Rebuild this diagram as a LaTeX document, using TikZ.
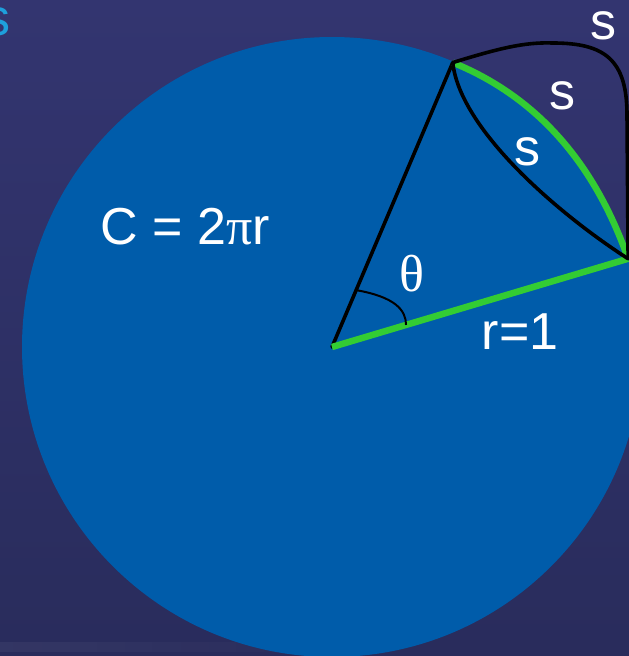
\documentclass[tikz,border=0pt]{standalone}
\usepackage{fontspec}
\setmainfont{Liberation Sans}
\newfontfamily\serifgreek{Liberation Serif}
\usetikzlibrary{calc,fadings}
\definecolor{bgtop}{RGB}{51,53,112}
\definecolor{bgbot}{RGB}{41,44,92}
\definecolor{disc}{RGB}{0,92,170}
\definecolor{arcgreen}{RGB}{51,204,51}
\definecolor{titleblue}{RGB}{30,160,220}
\tikzfading[name=streakfade, left color=transparent!0, right color=transparent!100]
\tikzset{
  lbl/.style={text=white, inner sep=0pt, font=\fontsize{52}{60}\selectfont},
  greenline/.style={draw=arcgreen, line width=6.5pt},
  blackline/.style={draw=black, line width=3.6pt, line cap=round, line join=round},
  anglemark/.style={draw=black, line width=2pt},
}
\begin{document}
\begin{tikzpicture}[x=1pt,y=-1pt]
\useasboundingbox (0,0) rectangle (629,656);
\clip (0,0) rectangle (629,656);
% background
\shade[top color=bgtop, bottom color=bgbot] (0,0) rectangle (629,656);
\fill[white, opacity=0.05, path fading=streakfade] (0,642) rectangle (360,652);
% title fragment
\node[lbl, text=titleblue] (title) at (-2,22) {s};
% geometry
\coordinate (O) at (332,347);
\coordinate (A) at ($(O)+(-67:309)$);
\coordinate (B) at ($(O)+(-16.6:309)$);
\fill[disc] (O) circle[radius=310];
% radii
\draw[blackline] (O) -- (A);
\draw[greenline] (O) -- (B);
% arc s (slightly bulging, as in the reference)
\draw[greenline] (A) .. controls (525,92) and (590,150) .. (B);
% inner curve
\draw[blackline] (A) .. controls (460,130) and (560,215) .. (B);
% outer curve
\draw[blackline] (A) .. controls (500,48) and (525,42) .. (553,43)
  .. controls (605,43) and (627,60) .. (627,115) -- (B);
% angle mark
\coordinate (m1) at ($(O)!0.2!(A)$);
\coordinate (m2) at ($(O)!0.25!(B)$);
\draw[anglemark] (m1) .. controls (395,297) and (406,310) .. (m2);
% labels
\node[lbl] (s1) at (603,26) {s};
\node[lbl] (s2) at (562,96) {s};
\node[lbl] (s3) at (527,152) {s};
\node[lbl, anchor=base west] (circ) at (100.5,244) {C = 2{\serifgreek π}r};
\node[lbl] (theta) at (412,274) {\serifgreek θ};
\node[lbl, anchor=base west] (rad) at (481.5,349) {r=1};
\end{tikzpicture}
\end{document}
